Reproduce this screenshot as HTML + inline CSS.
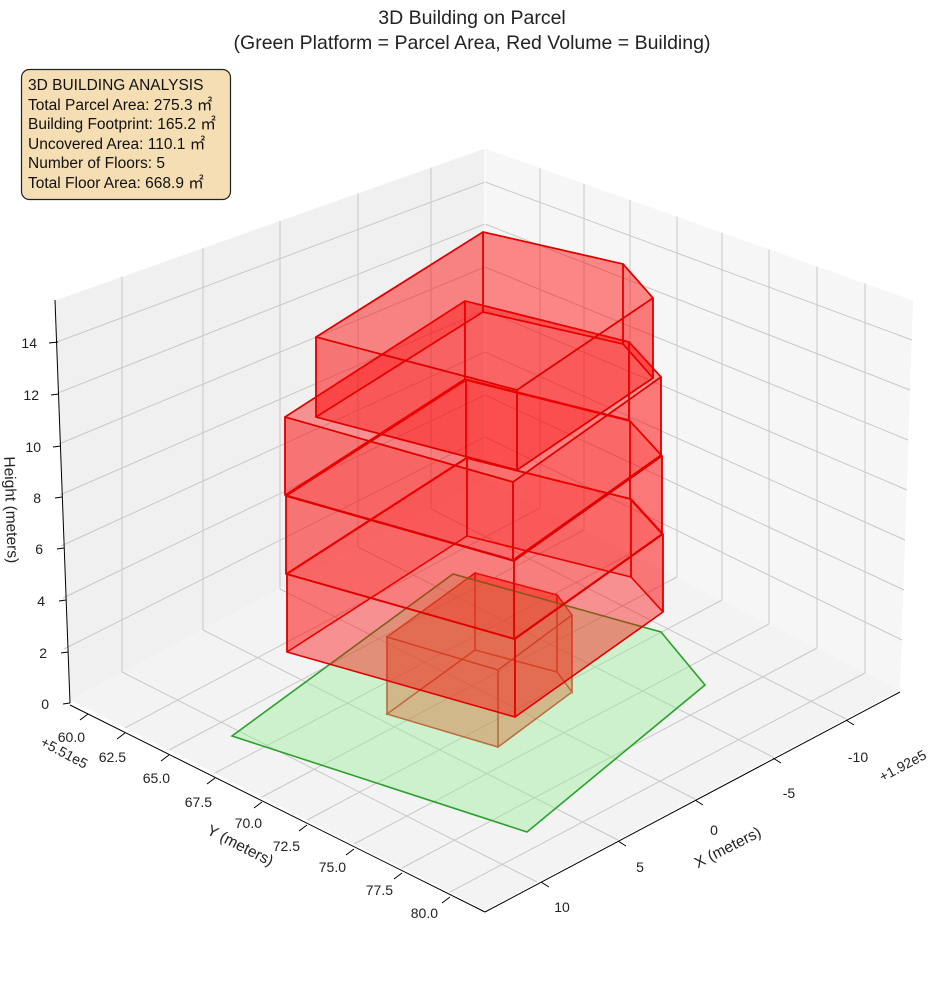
<!DOCTYPE html>
<html><head><meta charset="utf-8"><style>
body{margin:0;background:#fff}
svg{display:block;font-family:"Liberation Sans",sans-serif}
.g{stroke:#c8c8c8;stroke-width:1;fill:none}
.f{fill:#ff0000;fill-opacity:.3;stroke:#e00000;stroke-width:1.6;stroke-linejoin:round}
.fg{fill:#ff2000;fill-opacity:.25;stroke:#d02010;stroke-width:1.4}
.t{font-size:14px;fill:#222}
</style></head><body>
<svg width="944" height="992" viewBox="0 0 944 992">
<text x="472" y="24" text-anchor="middle" font-size="19.5" fill="#222">3D Building on Parcel</text>
<text x="472" y="49" text-anchor="middle" font-size="19.5" fill="#222">(Green Platform = Parcel Area, Red Volume = Building)</text>
<polygon points="55,300 485,148 485,480 70,700" fill="#f0f0f0"/>
<polygon points="485,148 913,300 900,690 485,480" fill="#f6f6f6"/>
<polygon points="70,700 485,480 900,690 485,910" fill="#f3f3f3"/>
<g class="g">
<line x1="122" y1="276" x2="122" y2="672"/><line x1="203" y1="248" x2="203" y2="630"/><line x1="280" y1="220" x2="280" y2="589"/><line x1="358" y1="193" x2="358" y2="547"/><line x1="431" y1="167" x2="431" y2="509"/>
<line x1="64" y1="649" x2="485" y2="437"/><line x1="63" y1="598" x2="485" y2="395"/><line x1="61" y1="546" x2="485" y2="352"/><line x1="60" y1="495" x2="485" y2="310"/><line x1="59" y1="444" x2="485" y2="267"/><line x1="58" y1="393" x2="485" y2="224"/><line x1="57" y1="342" x2="485" y2="182"/>
<line x1="485" y1="437" x2="902" y2="640"/><line x1="485" y1="395" x2="904" y2="590"/><line x1="485" y1="352" x2="905" y2="540"/><line x1="485" y1="310" x2="907" y2="490"/><line x1="485" y1="267" x2="908" y2="440"/><line x1="485" y1="224" x2="910" y2="390"/><line x1="485" y1="182" x2="912" y2="340"/>
<line x1="540" y1="168" x2="540" y2="508"/><line x1="584" y1="183" x2="584" y2="530"/><line x1="630" y1="199" x2="630" y2="554"/><line x1="677" y1="216" x2="677" y2="577"/><line x1="722" y1="232" x2="722" y2="600"/><line x1="769" y1="249" x2="769" y2="624"/><line x1="817" y1="266" x2="817" y2="648"/><line x1="865" y1="283" x2="865" y2="673"/>
<line x1="122" y1="672" x2="537" y2="882"/><line x1="203" y1="630" x2="618" y2="840"/><line x1="280" y1="589" x2="695" y2="799"/><line x1="358" y1="547" x2="773" y2="757"/><line x1="431" y1="509" x2="846" y2="719"/>
<line x1="540" y1="508" x2="125" y2="728"/><line x1="584" y1="530" x2="169" y2="750"/><line x1="630" y1="554" x2="215" y2="773"/><line x1="677" y1="577" x2="262" y2="797"/><line x1="722" y1="600" x2="307" y2="820"/><line x1="769" y1="624" x2="354" y2="844"/><line x1="817" y1="648" x2="402" y2="868"/><line x1="865" y1="673" x2="450" y2="892"/>
</g>
<g stroke="#fff" stroke-width="1" fill="none"><polyline points="55,300 485,148 913,300"/><line x1="485" y1="148" x2="485" y2="480"/></g>
<g stroke="#000" stroke-width="1" fill="none">
<line x1="55" y1="300" x2="70" y2="703"/>
<line x1="70" y1="705" x2="485" y2="912"/>
<line x1="485" y1="912" x2="900" y2="692"/>
<line x1="49" y1="343" x2="58" y2="342"/><line x1="51" y1="395" x2="59" y2="394"/><line x1="53" y1="447" x2="61" y2="446"/><line x1="55" y1="498" x2="62" y2="497"/><line x1="57" y1="549" x2="64" y2="548"/><line x1="59" y1="601" x2="66" y2="600"/><line x1="61" y1="653" x2="68" y2="652"/><line x1="63" y1="704" x2="70" y2="703"/>
<line x1="88" y1="714" x2="80" y2="720"/><line x1="125" y1="733" x2="117" y2="739"/><line x1="169" y1="755" x2="161" y2="761"/><line x1="215" y1="778" x2="207" y2="784"/><line x1="262" y1="802" x2="254" y2="808"/><line x1="307" y1="825" x2="299" y2="831"/><line x1="354" y1="849" x2="346" y2="855"/><line x1="402" y1="873" x2="394" y2="879"/><line x1="450" y1="897" x2="442" y2="903"/>
<line x1="541" y1="882" x2="549" y2="887"/><line x1="618" y1="841" x2="626" y2="846"/><line x1="695" y1="800" x2="703" y2="805"/><line x1="773" y1="758" x2="781" y2="763"/><line x1="846" y1="720" x2="854" y2="725"/>
</g>
<g class="t" text-anchor="end">
<text x="37" y="348">14</text><text x="39" y="400">12</text><text x="41" y="452">10</text><text x="41" y="503">8</text><text x="43" y="554">6</text><text x="45" y="606">4</text><text x="47" y="658">2</text><text x="49" y="709">0</text>
<text x="85" y="742">60.0</text><text x="126" y="762">62.5</text><text x="170" y="783">65.0</text><text x="212" y="807">67.5</text><text x="262" y="828">70.0</text><text x="300" y="851">72.5</text><text x="346" y="872">75.0</text><text x="393" y="895">77.5</text><text x="438" y="918">80.0</text>
</g>
<g class="t" text-anchor="middle">
<text x="562" y="912">10</text><text x="640" y="872">5</text><text x="714" y="835">0</text><text x="789" y="798">-5</text><text x="858" y="762">-10</text>
</g>
<text x="62" y="757" class="t" font-size="13" transform="rotate(28 62 757)" text-anchor="middle">+5.51e5</text>
<text x="905" y="770" class="t" font-size="13" transform="rotate(-28 905 770)" text-anchor="middle">+1.92e5</text>
<text x="238" y="850" font-size="15.5" fill="#222" text-anchor="middle" transform="rotate(27 238 850)">Y (meters)</text>
<text x="730" y="852" font-size="15.5" fill="#222" text-anchor="middle" transform="rotate(-27 730 852)">X (meters)</text>
<text x="6" y="510" font-size="15.5" fill="#222" text-anchor="middle" transform="rotate(88 6 510)">Height (meters)</text>
<g class="fg">
<polygon points="387,714 475,650 557,672 572,692 498,747"/>
<polygon points="387,637 475,573 475,650 387,714"/><polygon points="475,573 557,595 557,672 475,650"/><polygon points="557,595 572,615 572,692 557,672"/><polygon points="572,615 498,670 498,747 572,692"/><polygon points="498,670 387,637 387,714 498,747"/>
<polygon points="387,637 475,573 557,595 572,615 498,670"/>
</g>
<polygon points="232,736 453,574 661,632 705,685 527,832" fill="#90ee90" fill-opacity=".38" stroke="#2ca02c" stroke-width="1.6"/>
<defs><g id="mid" class="f">
<polygon points="285,417 465,301 465,379 285,495"/><polygon points="465,301 629,342 629,420 465,379"/><polygon points="629,342 661,377 661,455 629,420"/><polygon points="661,377 513,482 513,560 661,455"/><polygon points="513,482 285,417 285,495 513,560"/>
<polygon points="285,417 465,301 629,342 661,377 513,482" fill-opacity=".13"/>
</g></defs>
<polygon points="287,652 467,536 631,577 663,612 515,717" fill="#ff0000" fill-opacity=".15"/>
<use href="#mid" transform="translate(2,157)"/>
<use href="#mid" transform="translate(1,79)"/>
<use href="#mid"/>
<g class="f">
<polygon points="316,417 483,312 623,344 653,378 517,470" fill-opacity=".13"/>
<polygon points="316,337 483,232 483,312 316,417"/><polygon points="483,232 623,264 623,344 483,312"/><polygon points="623,264 653,298 653,378 623,344"/><polygon points="653,298 517,390 517,470 653,378"/><polygon points="517,390 316,337 316,417 517,470"/>
<polygon points="316,337 483,232 623,264 653,298 517,390" fill-opacity=".22"/>
</g>
<rect x="21.5" y="69.5" width="209" height="130" rx="8" fill="#f5deb3" stroke="#222" stroke-width="1.2"/>
<g font-size="15.5" fill="#111">
<text x="28" y="90">3D BUILDING ANALYSIS</text>
<text x="28" y="110">Total Parcel Area: 275.3 ㎡</text>
<text x="28" y="129">Building Footprint: 165.2 ㎡</text>
<text x="28" y="149">Uncovered Area: 110.1 ㎡</text>
<text x="28" y="168">Number of Floors: 5</text>
<text x="28" y="188">Total Floor Area: 668.9 ㎡</text>
</g>
</svg>
</body></html>
